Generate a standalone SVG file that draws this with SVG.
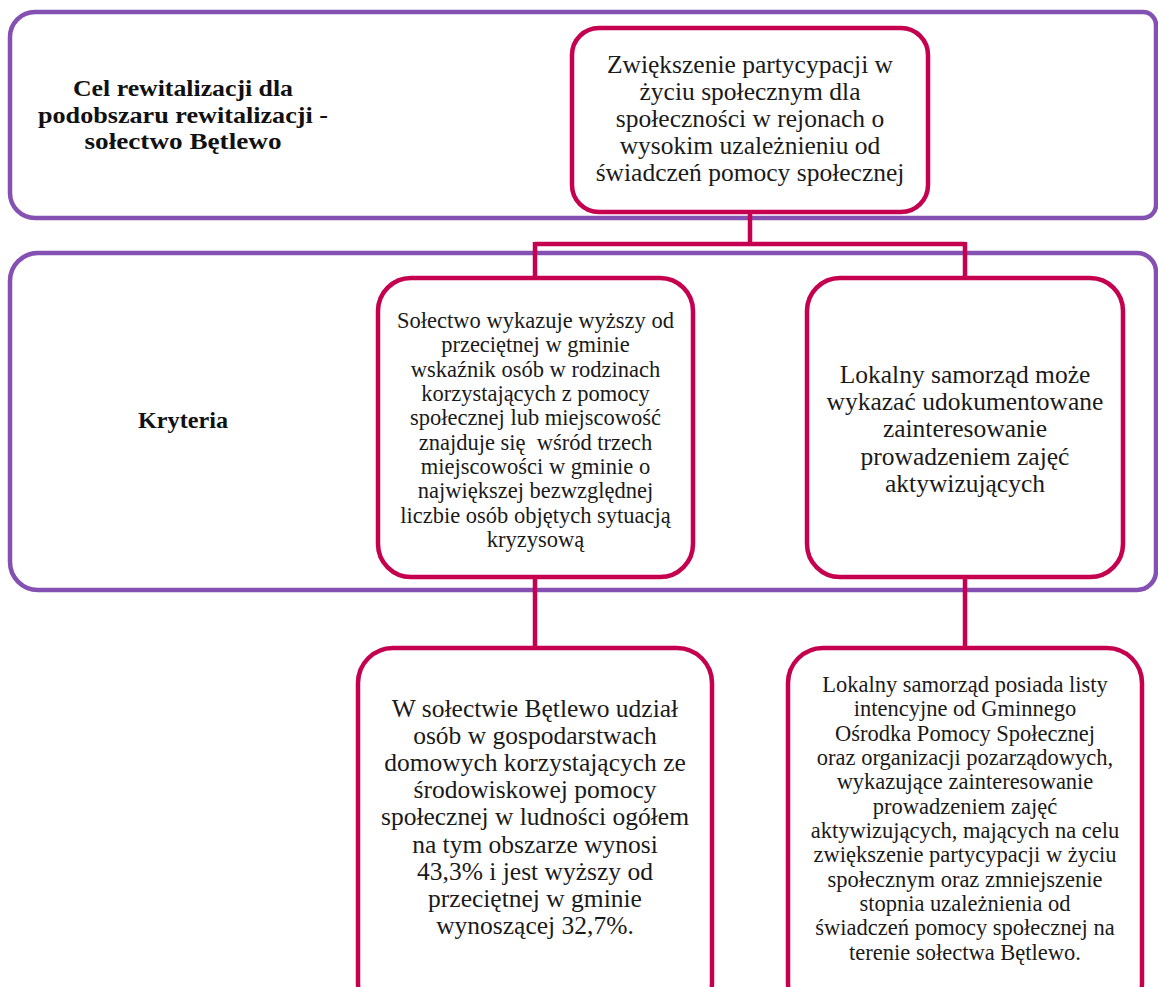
<svg xmlns="http://www.w3.org/2000/svg" width="1158" height="987" viewBox="0 0 1158 987">
<style>
.band{fill:#fff;stroke:#8451B3;stroke-width:4.5}
.box{fill:#fff;stroke:#C4004F;stroke-width:4.5}
.conn{fill:none;stroke:#C4004F;stroke-width:4.5}
.t{font-family:"Liberation Serif","Times New Roman",serif;fill:#1a1a1a;text-anchor:middle}
.b{font-family:"Liberation Serif","Times New Roman",serif;font-weight:bold;fill:#111;text-anchor:middle;font-size:24px}
.s{font-size:22.5px}
.l{font-size:25.5px}
</style>
<rect width="1158" height="987" fill="#fff"/>
<g id="band-cel">
<path class="band" d="M35,12 H1143 A13,13 0 0 1 1156,25 V205 A13,13 0 0 1 1143,218 H35 A25,25 0 0 1 10,193 V37 A25,25 0 0 1 35,12 Z"/>
<text class="b" x="183" y="96" textLength="220" lengthAdjust="spacingAndGlyphs">Cel rewitalizacji dla</text>
<text class="b" x="183" y="122.5" textLength="290" lengthAdjust="spacingAndGlyphs">podobszaru rewitalizacji -</text>
<text class="b" x="183" y="149" textLength="197" lengthAdjust="spacingAndGlyphs">sołectwo Bętlewo</text>
</g>
<g id="band-kryteria">
<path class="band" d="M38,253 H1137 A19,19 0 0 1 1156,272 V571 A19,19 0 0 1 1137,590 H38 A28,28 0 0 1 10,562 V281 A28,28 0 0 1 38,253 Z"/>
<text class="b" x="183" y="428" textLength="90" lengthAdjust="spacingAndGlyphs">Kryteria</text>
</g>
<g id="connectors">
<path class="conn" d="M750,212 V244 M535,244 H965 M535,242 V280 M965,242 V280 M535,577 V650 M965,577 V650"/>
</g>
<g id="cel">
<rect class="box" x="572" y="28" width="356" height="184" rx="27"/>
<text class="t l" x="750" y="73">Zwiększenie partycypacji w</text>
<text class="t l" x="750" y="100">życiu społecznym dla</text>
<text class="t l" x="750" y="127">społeczności w rejonach o</text>
<text class="t l" x="750" y="154">wysokim uzależnieniu od</text>
<text class="t l" x="750" y="181">świadczeń pomocy społecznej</text>
</g>
<g id="kryterium-1">
<rect class="box" x="378" y="278" width="315" height="299" rx="33"/>
<text class="t s" x="535.5" y="328">Sołectwo wykazuje wyższy od</text>
<text class="t s" x="535.5" y="352">przeciętnej w gminie</text>
<text class="t s" x="535.5" y="377">wskaźnik osób w rodzinach</text>
<text class="t s" x="535.5" y="401">korzystających z pomocy</text>
<text class="t s" x="535.5" y="425">społecznej lub miejscowość</text>
<text class="t s" x="535.5" y="450" xml:space="preserve">znajduje się  wśród trzech</text>
<text class="t s" x="535.5" y="474">miejscowości w gminie o</text>
<text class="t s" x="535.5" y="498">największej bezwzględnej</text>
<text class="t s" x="535.5" y="523">liczbie osób objętych sytuacją</text>
<text class="t s" x="535.5" y="547">kryzysową</text>
</g>
<g id="kryterium-2">
<rect class="box" x="807" y="278" width="316" height="299" rx="33"/>
<text class="t l" x="965" y="383">Lokalny samorząd może</text>
<text class="t l" x="965" y="410">wykazać udokumentowane</text>
<text class="t l" x="965" y="437">zainteresowanie</text>
<text class="t l" x="965" y="465">prowadzeniem zajęć</text>
<text class="t l" x="965" y="492">aktywizujących</text>
</g>
<g id="uzasadnienie-1">
<rect class="box" x="358" y="648" width="354" height="370" rx="35"/>
<text class="t l" x="535" y="717">W sołectwie Bętlewo udział</text>
<text class="t l" x="535" y="744">osób w gospodarstwach</text>
<text class="t l" x="535" y="771">domowych korzystających ze</text>
<text class="t l" x="535" y="798">środowiskowej pomocy</text>
<text class="t l" x="535" y="825">społecznej w ludności ogółem</text>
<text class="t l" x="535" y="853">na tym obszarze wynosi</text>
<text class="t l" x="535" y="880">43,3% i jest wyższy od</text>
<text class="t l" x="535" y="907">przeciętnej w gminie</text>
<text class="t l" x="535" y="934">wynoszącej 32,7%.</text>
</g>
<g id="uzasadnienie-2">
<rect class="box" x="788" y="648" width="354" height="370" rx="35"/>
<text class="t s" x="965" y="692">Lokalny samorząd posiada listy</text>
<text class="t s" x="965" y="716">intencyjne od Gminnego</text>
<text class="t s" x="965" y="741">Ośrodka Pomocy Społecznej</text>
<text class="t s" x="965" y="765">oraz organizacji pozarządowych,</text>
<text class="t s" x="965" y="789">wykazujące zainteresowanie</text>
<text class="t s" x="965" y="814">prowadzeniem zajęć</text>
<text class="t s" x="965" y="838">aktywizujących, mających na celu</text>
<text class="t s" x="965" y="862">zwiększenie partycypacji w życiu</text>
<text class="t s" x="965" y="887">społecznym oraz zmniejszenie</text>
<text class="t s" x="965" y="911">stopnia uzależnienia od</text>
<text class="t s" x="965" y="935">świadczeń pomocy społecznej na</text>
<text class="t s" x="965" y="960">terenie sołectwa Bętlewo.</text>
</g>
</svg>
